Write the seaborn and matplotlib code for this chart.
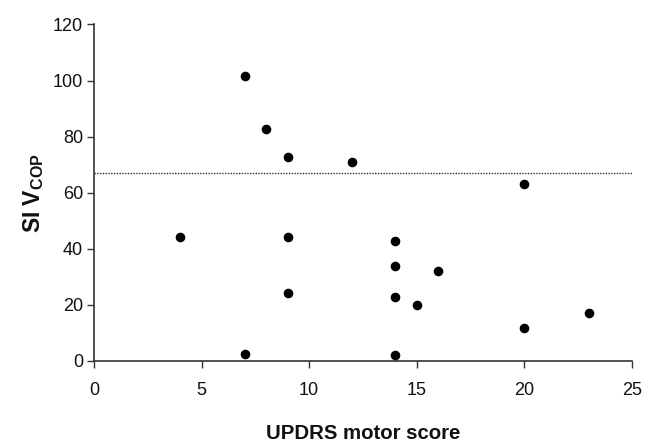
"""
plot.py
SI V_COP vs UPDRS motor score
"""

import matplotlib
matplotlib.use("Agg")
import matplotlib.pyplot as plt
import seaborn as sns
import pandas as pd

# data
updrs = [7, 8, 9, 12, 20, 4, 9, 9, 7, 14, 14, 16, 14, 15, 23, 20, 14]
si_vcop = [101.7, 82.6, 72.9, 70.9, 63.0, 44.1, 44.1, 24.1, 2.6,
           42.8, 33.7, 32.1, 22.9, 20.0, 17.0, 11.6, 2.0]
threshold = 67.0
x_ticks = [0, 5, 10, 15, 20, 25]
y_ticks = [0, 20, 40, 60, 80, 100, 120]

sns.set_theme(style="ticks")
plt.rcParams["font.family"] = ["Liberation Sans", "DejaVu Sans"]
plt.rcParams["mathtext.fontset"] = "custom"
plt.rcParams["mathtext.rm"] = "Liberation Sans"
plt.rcParams["mathtext.bf"] = "Liberation Sans:bold"

df = pd.DataFrame({"UPDRS": updrs, "SI": si_vcop})

fig = plt.figure(figsize=(6.58, 4.44), dpi=100)
ax = fig.add_axes([0.143, 0.187, 0.817, 0.758])

sns.scatterplot(
    data=df,
    x="UPDRS",
    y="SI",
    ax=ax,
    color="black",
    s=48,
    edgecolor="black",
    linewidth=0,
    clip_on=False,
    zorder=3,
)

ax.axhline(threshold, color="#333333", linestyle=(0, (1, 1)), linewidth=1.0)

ax.set_xlim(0, 25)
ax.set_ylim(0, 120)
ax.set_xticks(x_ticks)
ax.set_yticks(y_ticks)
ax.tick_params(axis="both", labelsize=13, length=5, width=1, colors="#333333",
               labelcolor="#111111", direction="out")
ax.tick_params(axis="x", pad=10)
ax.tick_params(axis="y", pad=3)

for side in ["top", "right"]:
    ax.spines[side].set_visible(False)
for side in ["left", "bottom"]:
    ax.spines[side].set_color("#333333")
    ax.spines[side].set_linewidth(1.2)

ax.set_xlabel("UPDRS motor score", fontsize=14.7, fontweight="bold",
              color="#111111", labelpad=18)
ax.set_ylabel(r"SI V$_{\mathbf{COP}}$", fontsize=16.5, fontweight="bold",
              color="#111111", labelpad=5)

fig.savefig("out.png", dpi=100)
plt.close(fig)
